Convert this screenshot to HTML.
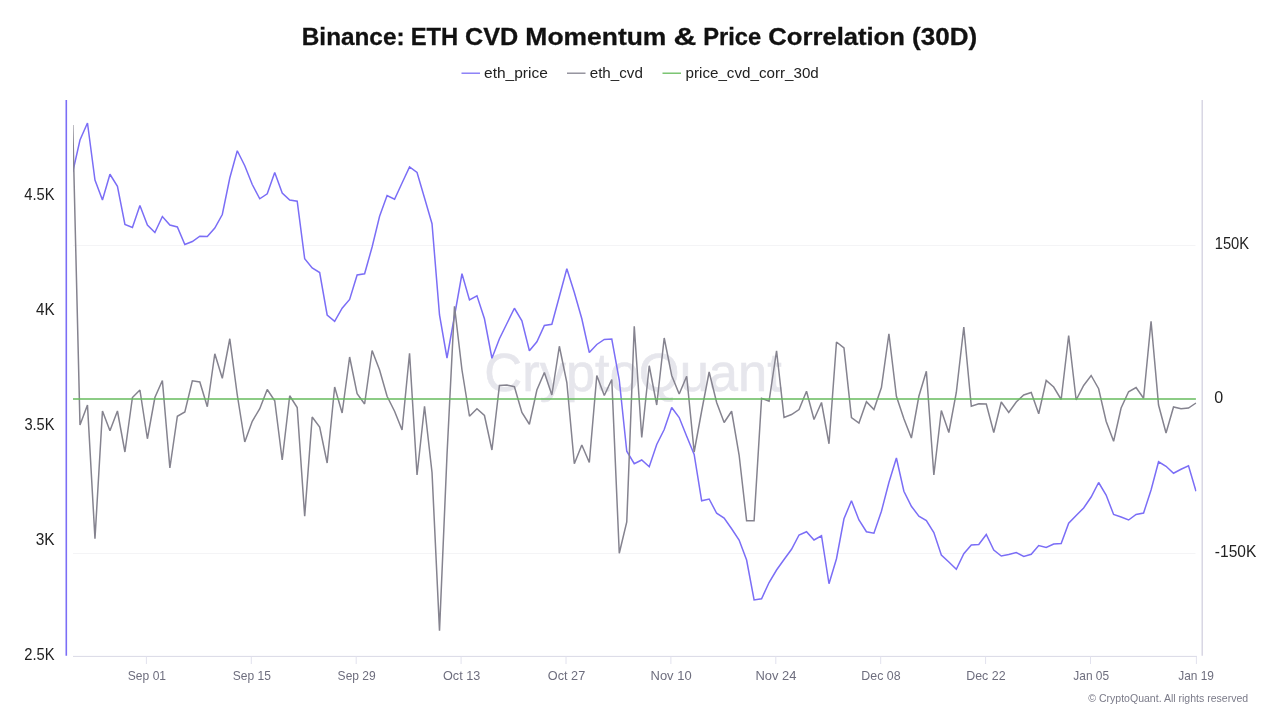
<!DOCTYPE html>
<html><head><meta charset="utf-8"><title>Binance: ETH CVD Momentum &amp; Price Correlation (30D)</title>
<style>
html,body{margin:0;padding:0;background:#fff;}
body{width:1280px;height:720px;overflow:hidden;font-family:"Liberation Sans",sans-serif;}
svg{display:block;font-family:"Liberation Sans",sans-serif;will-change:transform;opacity:0.9999;}
</style></head><body>
<svg width="1280" height="720" viewBox="0 0 1280 720">
<rect width="1280" height="720" fill="#ffffff"/>
<!-- legend swatches -->
<line x1="461.5" y1="73.2" x2="480" y2="73.2" stroke="#7b6ef6" stroke-width="1.3"/>
<line x1="567" y1="73.2" x2="585.5" y2="73.2" stroke="#85838f" stroke-width="1.3"/>
<line x1="662.5" y1="73.2" x2="681" y2="73.2" stroke="#66bb5c" stroke-width="1.3"/>
<!-- gridlines -->
<line x1="73" y1="245.5" x2="1195.5" y2="245.5" stroke="#f4f4f6" stroke-width="1"/>
<line x1="73" y1="553.5" x2="1195.5" y2="553.5" stroke="#f4f4f6" stroke-width="1"/>
<!-- watermark -->
<text transform="translate(484.29,391.4) scale(0.9809,1)" font-size="53.5" font-weight="normal" fill="#e6e6ec" stroke="#e6e6ec" stroke-width="0.6">CryptoQuant</text>
<!-- axes -->
<line x1="66.3" y1="100" x2="66.3" y2="655.8" stroke="#7b6ef6" stroke-width="1.6"/>
<line x1="1202.2" y1="100" x2="1202.2" y2="655.8" stroke="#d2d0e0" stroke-width="1.3"/>
<line x1="73" y1="656.4" x2="1197" y2="656.4" stroke="#d9d9e6" stroke-width="1"/>
<line x1="146.4" y1="656.5" x2="146.4" y2="664" stroke="#e2e2ee" stroke-width="1"/><line x1="251.3" y1="656.5" x2="251.3" y2="664" stroke="#e2e2ee" stroke-width="1"/><line x1="356.20000000000005" y1="656.5" x2="356.20000000000005" y2="664" stroke="#e2e2ee" stroke-width="1"/><line x1="461.1" y1="656.5" x2="461.1" y2="664" stroke="#e2e2ee" stroke-width="1"/><line x1="566.0" y1="656.5" x2="566.0" y2="664" stroke="#e2e2ee" stroke-width="1"/><line x1="670.9" y1="656.5" x2="670.9" y2="664" stroke="#e2e2ee" stroke-width="1"/><line x1="775.8000000000001" y1="656.5" x2="775.8000000000001" y2="664" stroke="#e2e2ee" stroke-width="1"/><line x1="880.7" y1="656.5" x2="880.7" y2="664" stroke="#e2e2ee" stroke-width="1"/><line x1="985.6" y1="656.5" x2="985.6" y2="664" stroke="#e2e2ee" stroke-width="1"/><line x1="1090.5" y1="656.5" x2="1090.5" y2="664" stroke="#e2e2ee" stroke-width="1"/><line x1="1196.4" y1="656.5" x2="1196.4" y2="664" stroke="#e2e2ee" stroke-width="1"/>
<!-- series -->
<clipPath id="plot"><rect x="73" y="100" width="1123.5" height="556"/></clipPath>
<g clip-path="url(#plot)">
<path d="M72.75,172.00 L79.99,140.00 L87.48,123.00 L94.97,180.00 L102.46,200.00 L109.95,174.25 L117.44,186.25 L124.93,224.50 L132.42,227.50 L139.91,205.50 L147.40,225.00 L154.89,232.50 L162.38,216.50 L169.87,225.00 L177.36,227.00 L184.85,244.50 L192.34,241.50 L199.83,236.25 L207.32,236.50 L214.81,228.00 L222.30,214.50 L229.79,178.00 L237.28,150.75 L244.77,165.75 L252.26,184.50 L259.75,198.75 L267.24,193.75 L274.73,172.50 L282.22,193.00 L289.71,200.00 L297.20,201.25 L304.69,258.75 L312.18,268.00 L319.67,272.50 L327.16,315.00 L334.65,321.25 L342.14,308.25 L349.63,299.50 L357.12,275.00 L364.61,273.75 L372.10,247.00 L379.59,216.25 L387.08,195.50 L394.57,199.25 L402.06,183.00 L409.55,167.00 L417.04,172.50 L424.53,198.00 L432.02,223.75 L439.51,315.00 L447.00,358.00 L454.49,316.00 L461.98,273.75 L469.47,300.00 L476.96,295.75 L484.45,318.75 L491.94,358.25 L499.43,338.75 L506.92,323.50 L514.41,308.25 L521.90,320.75 L529.39,350.75 L536.88,341.75 L544.37,325.50 L551.86,324.25 L559.35,296.50 L566.84,268.75 L574.33,292.50 L581.82,318.75 L589.31,352.50 L596.80,344.50 L604.29,339.50 L611.78,339.00 L619.27,380.00 L626.76,451.25 L634.25,463.75 L641.74,460.00 L649.23,466.75 L656.72,444.50 L664.21,429.50 L671.70,407.50 L679.19,417.50 L686.68,436.25 L694.17,454.50 L701.66,500.75 L709.15,499.00 L716.64,513.25 L724.13,518.00 L731.62,528.75 L739.11,540.00 L746.60,560.00 L754.09,600.00 L761.58,598.75 L769.07,582.50 L776.56,570.00 L784.05,559.50 L791.54,549.25 L799.03,535.00 L806.52,531.75 L814.01,540.00 L821.50,535.75 L828.99,583.75 L836.48,558.75 L843.97,518.75 L851.46,500.75 L858.95,520.00 L866.44,531.75 L873.93,533.25 L881.42,511.25 L888.91,482.50 L896.40,458.00 L903.89,491.25 L911.38,506.25 L918.87,516.25 L926.36,520.50 L933.85,532.50 L941.34,555.00 L948.83,562.00 L956.32,569.25 L963.81,553.75 L971.30,545.00 L978.79,544.50 L986.28,534.50 L993.77,550.00 L1001.26,556.00 L1008.75,554.50 L1016.24,552.50 L1023.73,556.50 L1031.22,554.25 L1038.71,545.50 L1046.20,547.50 L1053.69,544.00 L1061.18,543.50 L1068.67,523.25 L1076.16,515.50 L1083.65,508.00 L1091.14,497.00 L1098.63,482.50 L1106.12,495.00 L1113.61,514.50 L1121.10,517.00 L1128.59,520.00 L1136.08,514.50 L1143.57,513.00 L1151.06,490.00 L1158.55,461.75 L1166.04,466.25 L1173.53,473.25 L1181.02,469.25 L1188.51,465.75 L1196.00,491.25" fill="none" stroke="#7b6ef6" stroke-width="1.5" stroke-linejoin="miter" stroke-miterlimit="2"/>
<path d="M72.75,125.00 L79.99,425.00 L87.48,405.00 L94.97,538.75 L102.46,411.00 L109.95,430.75 L117.44,411.00 L124.93,452.00 L132.42,397.50 L139.91,390.00 L147.40,438.75 L154.89,397.50 L162.38,380.50 L169.87,468.00 L177.36,416.25 L184.85,412.00 L192.34,380.75 L199.83,382.00 L207.32,406.75 L214.81,353.75 L222.30,378.25 L229.79,338.75 L237.28,395.00 L244.77,442.00 L252.26,421.25 L259.75,408.75 L267.24,389.50 L274.73,400.75 L282.22,460.00 L289.71,395.75 L297.20,407.50 L304.69,516.25 L312.18,417.00 L319.67,427.00 L327.16,463.00 L334.65,387.00 L342.14,413.00 L349.63,357.00 L357.12,393.75 L364.61,404.00 L372.10,350.50 L379.59,370.00 L387.08,396.25 L394.57,411.25 L402.06,430.00 L409.55,353.25 L417.04,475.00 L424.53,406.25 L432.02,472.50 L439.51,630.60 L447.00,455.00 L454.49,306.25 L461.98,370.00 L469.47,416.25 L476.96,408.75 L484.45,415.50 L491.94,450.00 L499.43,385.50 L506.92,385.00 L514.41,386.75 L521.90,412.50 L529.39,424.25 L536.88,390.00 L544.37,372.50 L551.86,395.00 L559.35,346.25 L566.84,382.50 L574.33,463.75 L581.82,445.00 L589.31,462.50 L596.80,375.50 L604.29,395.50 L611.78,379.50 L619.27,553.25 L626.76,522.00 L634.25,326.25 L641.74,437.50 L649.23,365.75 L656.72,405.00 L664.21,338.00 L671.70,375.50 L679.19,394.00 L686.68,376.25 L694.17,452.00 L701.66,411.00 L709.15,372.00 L716.64,402.50 L724.13,422.50 L731.62,411.25 L739.11,455.00 L746.60,520.75 L754.09,520.75 L761.58,398.25 L769.07,401.25 L776.56,350.75 L784.05,417.50 L791.54,414.50 L799.03,409.50 L806.52,391.25 L814.01,419.50 L821.50,402.50 L828.99,443.75 L836.48,342.00 L843.97,348.00 L851.46,417.50 L858.95,423.00 L866.44,401.75 L873.93,409.50 L881.42,387.50 L888.91,333.75 L896.40,396.25 L903.89,418.75 L911.38,438.00 L918.87,396.25 L926.36,371.25 L933.85,475.00 L941.34,410.50 L948.83,432.50 L956.32,392.50 L963.81,327.00 L971.30,406.25 L978.79,403.75 L986.28,404.00 L993.77,432.50 L1001.26,402.00 L1008.75,412.50 L1016.24,402.00 L1023.73,395.00 L1031.22,392.50 L1038.71,413.75 L1046.20,380.50 L1053.69,387.00 L1061.18,399.50 L1068.67,335.50 L1076.16,400.00 L1083.65,385.50 L1091.14,375.50 L1098.63,388.75 L1106.12,421.25 L1113.61,441.25 L1121.10,408.00 L1128.59,391.75 L1136.08,387.50 L1143.57,398.25 L1151.06,321.25 L1158.55,405.00 L1166.04,433.00 L1173.53,407.00 L1181.02,408.75 L1188.51,408.00 L1196.00,403.00" fill="none" stroke="#85838f" stroke-width="1.5" stroke-linejoin="miter" stroke-miterlimit="2"/>
<line x1="73" y1="399" x2="1195.9" y2="399" stroke="#66bb5c" stroke-width="1.7"/>
</g>
<!-- text -->
<text transform="translate(301.80,45.0) scale(0.9973,1)" font-size="24.4" font-weight="bold" fill="#111111" stroke="#111111" stroke-width="0.3">Binance:</text>
<text transform="translate(410.64,45.0) scale(0.9741,1)" font-size="24.4" font-weight="bold" fill="#111111" stroke="#111111" stroke-width="0.3">ETH</text>
<text transform="translate(464.97,45.0) scale(1.0344,1)" font-size="24.4" font-weight="bold" fill="#111111" stroke="#111111" stroke-width="0.3">CVD</text>
<text transform="translate(525.37,45.0) scale(1.0836,1)" font-size="24.4" font-weight="bold" fill="#111111" stroke="#111111" stroke-width="0.3">Momentum</text>
<text transform="translate(673.40,45.0) scale(1.2956,1)" font-size="24.4" font-weight="bold" fill="#111111" stroke="#111111" stroke-width="0.3">&amp;</text>
<text transform="translate(703.15,45.0) scale(0.9717,1)" font-size="24.4" font-weight="bold" fill="#111111" stroke="#111111" stroke-width="0.3">Price</text>
<text transform="translate(768.35,45.0) scale(1.0498,1)" font-size="24.4" font-weight="bold" fill="#111111" stroke="#111111" stroke-width="0.3">Correlation</text>
<text transform="translate(912.12,45.0) scale(1.0667,1)" font-size="24.4" font-weight="bold" fill="#111111" stroke="#111111" stroke-width="0.3">(30D)</text>
<text transform="translate(484.00,78.0) scale(1.0025,1)" font-size="15.5" font-weight="normal" fill="#222222">eth_price</text>
<text transform="translate(589.71,78.0) scale(0.9798,1)" font-size="15.5" font-weight="normal" fill="#222222">eth_cvd</text>
<text transform="translate(685.52,78.0) scale(0.9798,1)" font-size="15.5" font-weight="normal" fill="#222222">price_cvd_corr_30d</text>
<text transform="translate(24.24,199.6) scale(0.8719,1)" font-size="16.9" font-weight="normal" fill="#222222">4.5K</text>
<text transform="translate(35.93,314.8) scale(0.9010,1)" font-size="16.9" font-weight="normal" fill="#222222">4K</text>
<text transform="translate(24.38,429.9) scale(0.8678,1)" font-size="16.9" font-weight="normal" fill="#222222">3.5K</text>
<text transform="translate(35.65,545.0) scale(0.9146,1)" font-size="16.9" font-weight="normal" fill="#222222">3K</text>
<text transform="translate(24.20,660.2) scale(0.8730,1)" font-size="16.9" font-weight="normal" fill="#222222">2.5K</text>
<text transform="translate(1214.75,249.0) scale(0.8715,1)" font-size="16.9" font-weight="normal" fill="#222222">150K</text>
<text transform="translate(1214.23,403.1) scale(0.9512,1)" font-size="16.9" font-weight="normal" fill="#222222">0</text>
<text transform="translate(1214.85,557.0) scale(0.9214,1)" font-size="16.9" font-weight="normal" fill="#222222">-150K</text>
<text transform="translate(127.82,680.0) scale(0.9581,1)" font-size="12.6" font-weight="normal" fill="#6e6e7e">Sep 01</text>
<text transform="translate(232.72,680.0) scale(0.9556,1)" font-size="12.6" font-weight="normal" fill="#6e6e7e">Sep 15</text>
<text transform="translate(337.62,680.0) scale(0.9556,1)" font-size="12.6" font-weight="normal" fill="#6e6e7e">Sep 29</text>
<text transform="translate(442.95,680.0) scale(1.0053,1)" font-size="12.6" font-weight="normal" fill="#6e6e7e">Oct 13</text>
<text transform="translate(547.85,680.0) scale(1.0081,1)" font-size="12.6" font-weight="normal" fill="#6e6e7e">Oct 27</text>
<text transform="translate(650.52,680.0) scale(1.0308,1)" font-size="12.6" font-weight="normal" fill="#6e6e7e">Nov 10</text>
<text transform="translate(755.42,680.0) scale(1.0281,1)" font-size="12.6" font-weight="normal" fill="#6e6e7e">Nov 24</text>
<text transform="translate(861.32,680.0) scale(0.9840,1)" font-size="12.6" font-weight="normal" fill="#6e6e7e">Dec 08</text>
<text transform="translate(966.21,680.0) scale(0.9866,1)" font-size="12.6" font-weight="normal" fill="#6e6e7e">Dec 22</text>
<text transform="translate(1073.31,680.0) scale(0.9456,1)" font-size="12.6" font-weight="normal" fill="#6e6e7e">Jan 05</text>
<text transform="translate(1178.21,680.0) scale(0.9456,1)" font-size="12.6" font-weight="normal" fill="#6e6e7e">Jan 19</text>
<text transform="translate(1088.30,701.9) scale(0.9837,1)" font-size="10.7" font-weight="normal" fill="#7a7a88">© CryptoQuant. All rights reserved</text>
</svg>
</body></html>
